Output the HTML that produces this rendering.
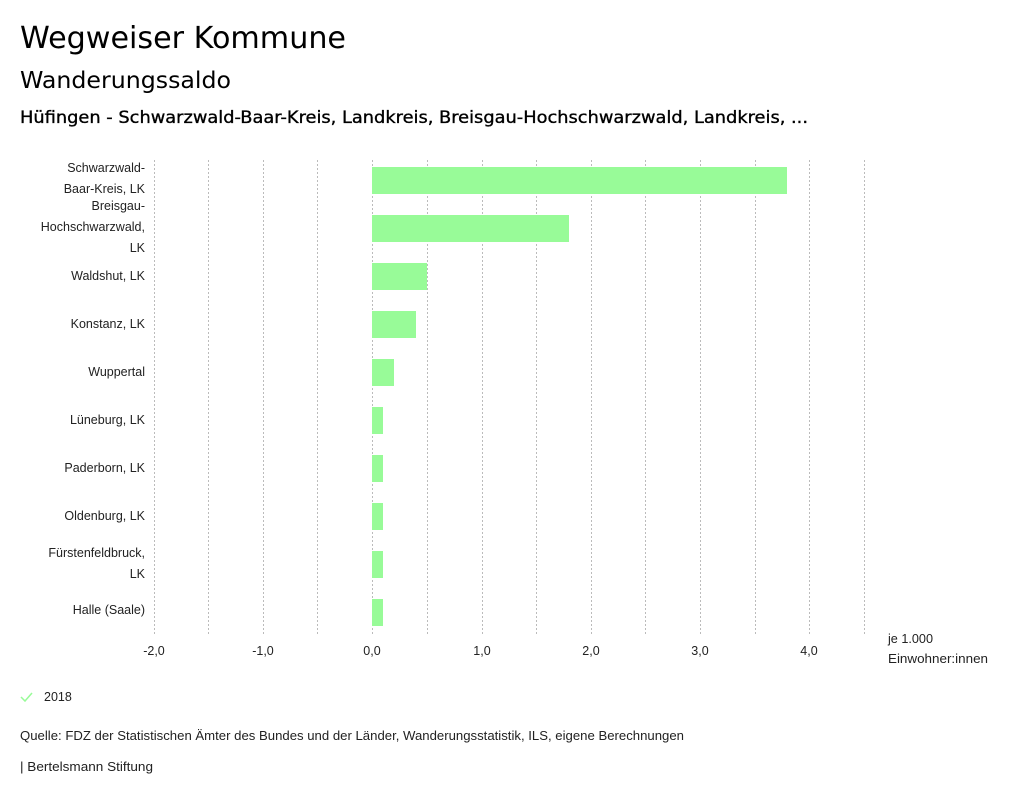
<!DOCTYPE html>
<html><head><meta charset="utf-8"><style>
body{margin:0;background:#fff}
svg{display:block}
.t{font-family:"DejaVu Sans",sans-serif;fill:#000}
.s{font-family:"Liberation Sans",sans-serif;font-size:12.5px;fill:#222}
</style></head><body>
<svg width="1024" height="799" xmlns="http://www.w3.org/2000/svg">
<text class="t" x="20" y="48" font-size="30" textLength="326" lengthAdjust="spacingAndGlyphs">Wegweiser Kommune</text>
<text class="t" x="20" y="88" font-size="23" textLength="211" lengthAdjust="spacingAndGlyphs">Wanderungssaldo</text>
<text class="t" x="20" y="123" font-size="17" stroke="#000" stroke-width="0.35" textLength="788" lengthAdjust="spacingAndGlyphs">Hüfingen - Schwarzwald-Baar-Kreis, Landkreis, Breisgau-Hochschwarzwald, Landkreis, ...</text>
<g stroke="#bbb" stroke-width="1" stroke-dasharray="2,2">
<line x1="154.5" y1="160" x2="154.5" y2="635"/><line x1="208.5" y1="160" x2="208.5" y2="635"/>
<line x1="263.5" y1="160" x2="263.5" y2="635"/><line x1="317.5" y1="160" x2="317.5" y2="635"/>
<line x1="372.5" y1="160" x2="372.5" y2="635"/><line x1="427.5" y1="160" x2="427.5" y2="635"/>
<line x1="482.5" y1="160" x2="482.5" y2="635"/><line x1="536.5" y1="160" x2="536.5" y2="635"/>
<line x1="591.5" y1="160" x2="591.5" y2="635"/><line x1="645.5" y1="160" x2="645.5" y2="635"/>
<line x1="700.5" y1="160" x2="700.5" y2="635"/><line x1="755.5" y1="160" x2="755.5" y2="635"/>
<line x1="809.5" y1="160" x2="809.5" y2="635"/><line x1="864.5" y1="160" x2="864.5" y2="635"/>
</g>
<g fill="#98fb98">
<rect x="372" y="167" width="415" height="27"/>
<rect x="372" y="215" width="197" height="27"/>
<rect x="372" y="263" width="55" height="27"/>
<rect x="372" y="311" width="44" height="27"/>
<rect x="372" y="359" width="22" height="27"/>
<rect x="372" y="407" width="11" height="27"/>
<rect x="372" y="455" width="11" height="27"/>
<rect x="372" y="503" width="11" height="27"/>
<rect x="372" y="551" width="11" height="27"/>
<rect x="372" y="599" width="11" height="27"/>
</g>
<g class="s" text-anchor="end">
<text x="145" y="172">Schwarzwald-</text>
<text x="145" y="193">Baar-Kreis, LK</text>
<text x="145" y="210">Breisgau-</text>
<text x="145" y="231">Hochschwarzwald,</text>
<text x="145" y="252">LK</text>
<text x="145" y="280">Waldshut, LK</text>
<text x="145" y="328">Konstanz, LK</text>
<text x="145" y="376">Wuppertal</text>
<text x="145" y="424">Lüneburg, LK</text>
<text x="145" y="472">Paderborn, LK</text>
<text x="145" y="520">Oldenburg, LK</text>
<text x="145" y="557">Fürstenfeldbruck,</text>
<text x="145" y="578">LK</text>
<text x="145" y="614">Halle (Saale)</text>
</g>
<g class="s" text-anchor="middle">
<text x="154" y="655">-2,0</text><text x="263" y="655">-1,0</text><text x="372" y="655">0,0</text>
<text x="482" y="655">1,0</text><text x="591" y="655">2,0</text><text x="700" y="655">3,0</text><text x="809" y="655">4,0</text>
</g>
<text class="s" x="888" y="643" textLength="45" lengthAdjust="spacingAndGlyphs">je 1.000</text>
<text class="s" x="888" y="663" textLength="100" lengthAdjust="spacingAndGlyphs">Einwohner:innen</text>
<polyline points="21,697 25,701 32,693" fill="none" stroke="#98fb98" stroke-width="1.5"/>
<text class="s" x="44" y="701">2018</text>
<text class="s" x="20" y="740" textLength="664" lengthAdjust="spacingAndGlyphs">Quelle: FDZ der Statistischen Ämter des Bundes und der Länder, Wanderungsstatistik, ILS, eigene Berechnungen</text>
<text class="s" x="20" y="771" textLength="133" lengthAdjust="spacingAndGlyphs">| Bertelsmann Stiftung</text>
</svg>
</body></html>
